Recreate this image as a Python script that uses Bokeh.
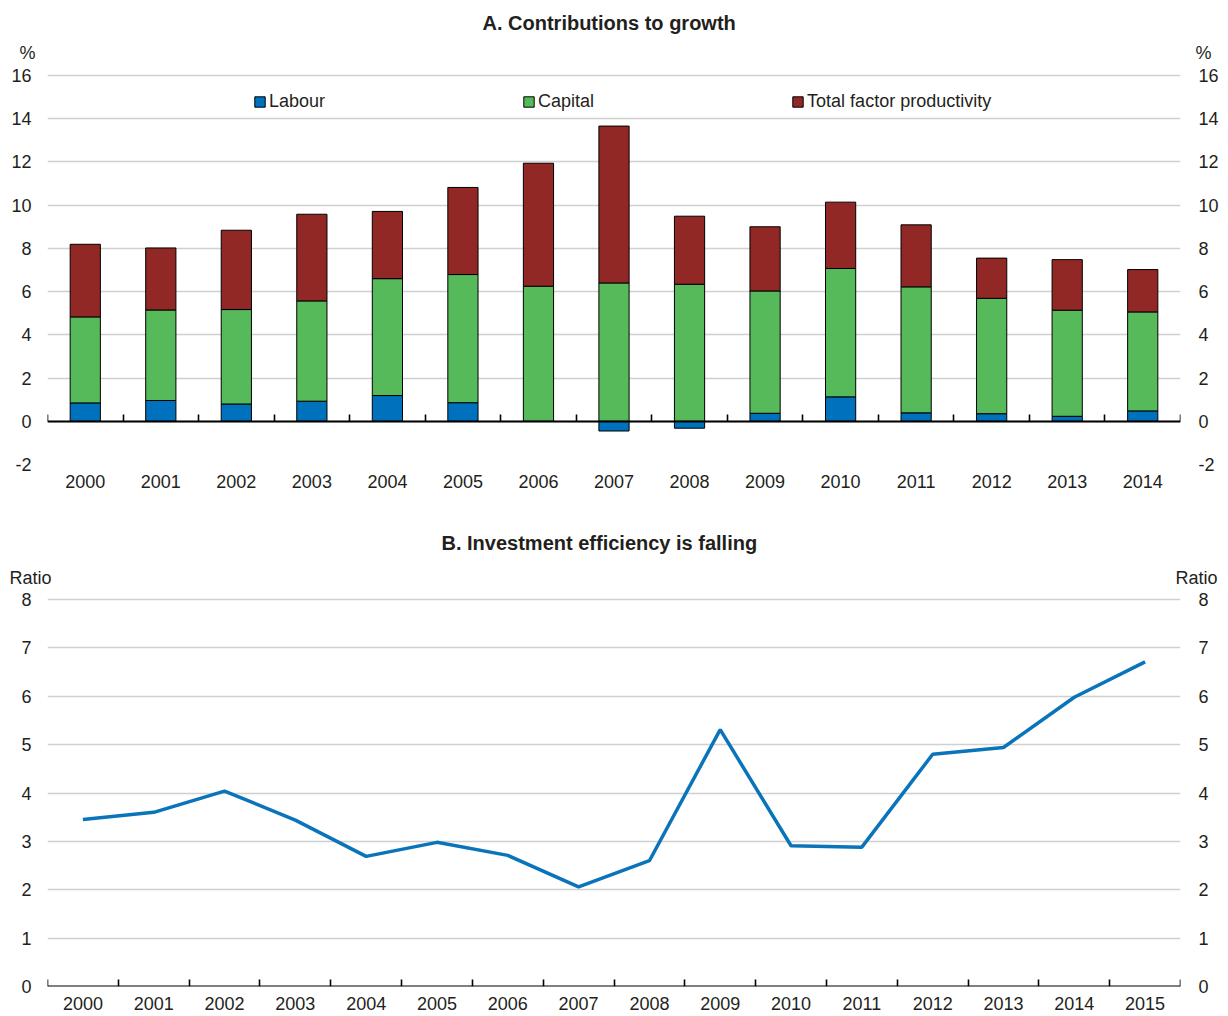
from bokeh.plotting import figure
from bokeh.models import (ColumnDataSource, LinearAxis, FixedTicker, Range1d,
                          CustomJSTickFormatter)
from bokeh.layouts import column
from bokeh.embed import file_html
from bokeh.resources import INLINE

# ---------------- data ----------------
years_a = [2000, 2001, 2002, 2003, 2004, 2005, 2006, 2007, 2008, 2009, 2010, 2011, 2012, 2013, 2014]
labour = [0.85, 0.96, 0.80, 0.93, 1.19, 0.86, 0.00, -0.45, -0.32, 0.37, 1.13, 0.39, 0.35, 0.23, 0.48]
capital = [3.98, 4.19, 4.37, 4.64, 5.41, 5.93, 6.25, 6.40, 6.34, 5.66, 5.94, 5.83, 5.34, 4.91, 4.58]
tfp = [3.36, 2.87, 3.67, 4.01, 3.11, 4.03, 5.69, 7.26, 3.15, 2.97, 3.07, 2.87, 1.86, 2.34, 1.96]

years_b = [2000, 2001, 2002, 2003, 2004, 2005, 2006, 2007, 2008, 2009, 2010, 2011, 2012, 2013, 2014, 2015]
ratio = [3.45, 3.60, 4.04, 3.44, 2.69, 2.98, 2.71, 2.06, 2.60, 5.31, 2.91, 2.88, 4.80, 4.94, 5.98, 6.71]

series_names = ["Labour", "Capital", "Total factor productivity"]
yticks_a = [-2, 0, 2, 4, 6, 8, 10, 12, 14, 16]
yticks_b = [0, 1, 2, 3, 4, 5, 6, 7, 8]
title_a = "A. Contributions to growth"
title_b = "B. Investment efficiency is falling"
unit_a = "%"
unit_b = "Ratio"

# ---------------- style ----------------
FONT = "Liberation Sans"
TXT = "#231F20"
C_LAB = "#0071BC"
C_CAP = "#56B95A"
C_TFP = "#912825"
C_LINE = "#0A74BB"
GRID = "#D0D0D0"
FS = "18px"
FRAME_W = 1133
BORDER_L = 47
BORDER_R = 45


def text_fmt(s):
    return CustomJSTickFormatter(code="return %r" % s)


num_fmt = CustomJSTickFormatter(code="return String(tick)")


def style_common(p, yticks, x_standoff, title_offset):
    p.outline_line_color = None
    p.xgrid.grid_line_color = None
    p.ygrid.ticker = FixedTicker(ticks=yticks)
    p.ygrid.grid_line_color = GRID
    p.ygrid.grid_line_width = 1.6
    p.title.align = "left"
    p.title.offset = title_offset
    p.title.standoff = 14
    p.title.text_font = FONT
    p.title.text_font_size = "20px"
    p.title.text_font_style = "bold"
    p.title.text_color = TXT
    # labelled x axis (years at category centres)
    xa = p.xaxis[0]
    xa.formatter = num_fmt
    xa.axis_line_color = None
    xa.major_tick_line_color = None
    xa.minor_tick_line_color = None
    xa.major_tick_in = 0
    xa.major_tick_out = 0
    xa.major_label_standoff = x_standoff
    xa.major_label_text_font = FONT
    xa.major_label_text_font_size = FS
    xa.major_label_text_color = TXT
    # left y axis
    ya = p.yaxis[0]
    ya.ticker = FixedTicker(ticks=yticks)
    ya.formatter = num_fmt
    ya.axis_line_color = None
    ya.major_tick_line_color = None
    ya.minor_tick_line_color = None
    ya.major_tick_in = 0
    ya.major_tick_out = 0
    ya.major_label_standoff = 16
    ya.major_label_text_font = FONT
    ya.major_label_text_font_size = FS
    ya.major_label_text_color = TXT
    # right y axis
    yr = LinearAxis(ticker=FixedTicker(ticks=yticks), formatter=num_fmt, axis_line_color=None,
                    major_tick_line_color=None, minor_tick_line_color=None,
                    major_tick_in=0, major_tick_out=0, major_label_standoff=18,
                    major_label_text_font=FONT, major_label_text_font_size=FS,
                    major_label_text_color=TXT)
    p.add_layout(yr, "right")


def zero_axis(p, bounds):
    ax0 = LinearAxis(fixed_location=0, ticker=FixedTicker(ticks=bounds),
                     formatter=text_fmt(""), axis_line_color="black", axis_line_width=2,
                     major_tick_line_color="black", major_tick_line_width=1.6,
                     major_tick_in=7, major_tick_out=0, minor_tick_line_color=None,
                     major_label_standoff=0)
    p.add_layout(ax0, "below")


def unit_axes(p, y, text, standoff_l, standoff_r):
    # unit captions drawn as the single tick label of an outer axis on each side
    for side, so in (("left", standoff_l), ("right", standoff_r)):
        ax = LinearAxis(ticker=FixedTicker(ticks=[y]),
                        formatter=text_fmt(text), axis_line_color=None,
                        major_tick_line_color=None, minor_tick_line_color=None,
                        major_tick_in=0, major_tick_out=0, major_label_standoff=so,
                        major_label_text_font=FONT, major_label_text_font_size=FS,
                        major_label_text_color=TXT)
        p.add_layout(ax, side)


# ---------------- chart A ----------------
l_bot = [min(0, v) for v in labour]
l_top = [max(0, v) for v in labour]
k_bot = l_top
k_top = [a + b for a, b in zip(l_top, capital)]
t_bot = k_top
t_top = [a + b for a, b in zip(k_top, tfp)]
src = ColumnDataSource(dict(x=years_a, l_bot=l_bot, l_top=l_top, k_bot=k_bot,
                            k_top=k_top, t_bot=t_bot, t_top=t_top))

# frame: top at 40px, the "16" line at 75px, the "-2" line at 464px
ppu_a = (464 - 75) / (yticks_a[-1] - yticks_a[0])
fh_a = 464 - 40
ya0 = yticks_a[0]
ya1 = ya0 + fh_a / ppu_a
xa0, xa1 = years_a[0] - 0.5, years_a[-1] + 0.5
p1 = figure(title=title_a, frame_width=FRAME_W, frame_height=fh_a, x_range=Range1d(xa0, xa1),
            y_range=Range1d(ya0, ya1), output_backend="svg", toolbar_location=None,
            min_border_left=BORDER_L, min_border_right=BORDER_R, min_border_top=40,
            min_border_bottom=44)
p1.xaxis.ticker = FixedTicker(ticks=years_a)
style_common(p1, yticks_a, 10, 435)

p1.vbar(x="x", bottom="l_bot", top="l_top", width=0.4, source=src, fill_color=C_LAB,
        line_color="black", line_width=1, legend_label=series_names[0])
p1.vbar(x="x", bottom="k_bot", top="k_top", width=0.4, source=src, fill_color=C_CAP,
        line_color="black", line_width=1, legend_label=series_names[1])
p1.vbar(x="x", bottom="t_bot", top="t_top", width=0.4, source=src, fill_color=C_TFP,
        line_color="black", line_width=1, legend_label=series_names[2])
zero_axis(p1, [y - 0.5 for y in years_a] + [years_a[-1] + 0.5])
unit_axes(p1, yticks_a[-1] + 23 / ppu_a, unit_a, -27, -26)

lg = p1.legend[0]
lg.orientation = "horizontal"
lg.location = (206, fh_a - 72)
lg.background_fill_alpha = 0
lg.border_line_alpha = 0
lg.padding = 0
lg.margin = 0
lg.spacing = 197
lg.glyph_width = 13
lg.glyph_height = 13
lg.label_standoff = 3
lg.label_height = 20
lg.label_text_font = FONT
lg.label_text_font_size = FS
lg.label_text_color = TXT

# ---------------- chart B ----------------
# canvas starts at 508px; frame top at 560px, "8" line at 599px, "0" line at 986px
ppu_b = (986 - 599) / (yticks_b[-1] - yticks_b[0])
fh_b = 986 - 560
yb0 = yticks_b[0]
yb1 = yb0 + fh_b / ppu_b
xb0, xb1 = years_b[0] - 0.5, years_b[-1] + 0.5
p2 = figure(title=title_b, frame_width=FRAME_W, frame_height=fh_b, x_range=Range1d(xb0, xb1),
            y_range=Range1d(yb0, yb1), output_backend="svg", toolbar_location=None,
            min_border_left=BORDER_L, min_border_right=BORDER_R, min_border_top=52,
            min_border_bottom=26)
p2.xaxis.ticker = FixedTicker(ticks=years_b)
style_common(p2, yticks_b, 10, 394)

p2.line(x=years_b, y=ratio, line_color=C_LINE, line_width=3.5)
zero_axis(p2, [y - 0.5 for y in years_b] + [years_b[-1] + 0.5])
unit_axes(p2, yticks_b[-1] + 22 / ppu_b, unit_b, -33, -36)

layout = column(p1, p2, spacing=0)
open("out.html", "w").write(file_html(layout, INLINE))
